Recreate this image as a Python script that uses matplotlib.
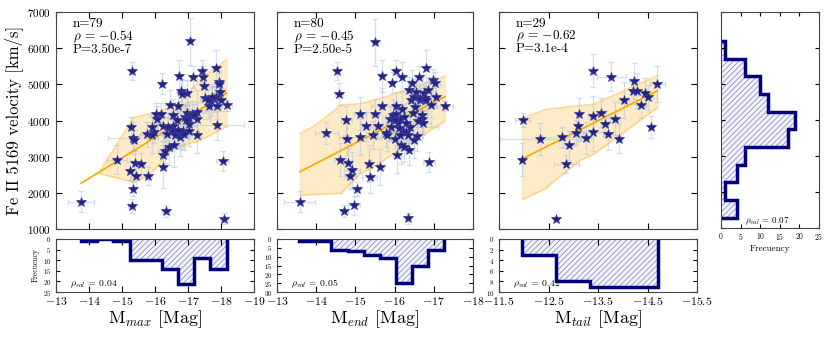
import matplotlib.pyplot as plt
import numpy as np

plt.rcParams.update({
    'font.family': 'serif',
    'font.serif': ['cmr10', 'DejaVu Serif'],
    'mathtext.fontset': 'cm',
    'axes.formatter.use_mathtext': True,
    'axes.unicode_minus': True,
    'hatch.linewidth': 0.6,
    'axes.edgecolor': '#444444',
    'xtick.direction': 'in',
    'ytick.direction': 'in',
    'xtick.top': True,
    'ytick.right': True,
})

# ---- panel 1: M_max
mmax_x = [-13.76, -15.31, -15.29, -15.34, -15.34, -15.36, -15.24, -15.39, -15.42, -15.58,
          -14.86, -15.27, -15.75, -15.90, -15.80, -15.98, -16.03, -16.05, -16.18, -16.22,
          -16.23, -15.91, -16.25, -16.25, -16.30, -16.32, -16.43, -16.46, -16.56, -16.56,
          -16.53, -16.58, -16.71, -16.73, -16.79, -16.76, -16.81, -16.84, -16.92, -16.96,
          -16.97, -17.02, -17.04, -17.06, -17.02, -17.16, -17.26, -17.28, -17.28, -17.43,
          -17.46, -17.48, -17.51, -17.63, -17.71, -17.78, -17.84, -17.86, -17.87, -17.89,
          -17.94, -17.97, -18.00, -18.05, -18.10, -18.17, -16.66, -16.88, -17.11, -17.19,
          -16.40, -16.61, -16.71, -16.94, -17.93, -17.73, -16.35, -16.81, -17.60]
mmax_v = [1750, 5360, 1630, 2110, 3510, 3450, 2610, 2830, 2460, 2800,
          2920, 3820, 3620, 3820, 2460, 3670, 4190, 4050, 4190, 5020,
          3840, 3590, 3040, 2720, 3170, 1490, 3260, 4430, 4140, 3860,
          3700, 3320, 4400, 5240, 4810, 3530, 3660, 3700, 4110, 4200,
          4770, 3910, 4060, 6190, 3700, 5210, 4230, 4050, 3600, 5370,
          5210, 4960, 4610, 4400, 4550, 4590, 4660, 5460, 3870, 4400,
          5060, 4800, 4560, 2870, 1290, 4420, 4010, 3640, 4190, 4150,
          3820, 3590, 3750, 4010, 5020, 4660, 3640, 4740, 4560]
mmax_xerr = [0.39, 0.05, 0.10, 0.05, 0.75, 0.10, 0.10, 0.10, 0.15, 0.10,
             0.30, 0.10, 0.20, 0.15, 0.10, 0.25, 0.15, 0.10, 0.10, 0.05,
             0.20, 0.35, 0.10, 0.10, 0.20, 0.10, 0.10, 0.15, 0.10, 0.30,
             0.10, 0.15, 0.20, 0.05, 0.10, 0.25, 0.10, 0.15, 0.10, 0.20,
             0.10, 0.10, 0.15, 0.05, 0.30, 0.10, 0.20, 0.40, 0.10, 0.10,
             0.05, 0.10, 0.15, 0.10, 0.20, 0.10, 0.15, 0.10, 0.83, 0.10,
             0.10, 0.15, 0.10, 0.20, 0.10, 0.15, 0.10, 0.20, 0.15, 0.10,
             0.10, 0.25, 0.10, 0.15, 0.10, 0.10, 0.15, 0.10, 0.20]
mmax_yerr = [290, 250, 200, 200, 450, 300, 250, 350, 300, 300,
             400, 280, 350, 300, 250, 300, 300, 350, 300, 300,
             400, 500, 400, 600, 350, 170, 500, 400, 450, 350,
             500, 600, 400, 420, 300, 500, 450, 400, 350, 500,
             350, 400, 450, 650, 400, 300, 600, 450, 500, 300,
             300, 350, 400, 300, 400, 350, 300, 500, 400, 350,
             300, 250, 300, 280, 150, 150, 400, 450, 350, 300,
             400, 350, 500, 450, 300, 350, 450, 400, 300]
mmax_fit = (-565, -5510)  # slope, intercept
mmax_band_x = [-14.30, -15.34, -15.75, -16.05, -16.56, -16.81, -17.36, -18.17]
mmax_band_hi = [2570, 4080, 4180, 4210, 4430, 4560, 5140, 5700]
mmax_band_lo = [2540, 2300, 2450, 2710, 3270, 3310, 3450, 3840]
mmax_edges = [-13.76, -14.25, -14.74, -15.23, -15.72, -16.21, -16.70, -17.19, -17.68, -18.17]
mmax_counts = [1, 0, 1, 10, 10, 14, 21, 9, 14]

# ---- panel 2: M_end
mend_x = [-13.58, -14.26, -14.53, -14.58, -14.71, -14.77, -14.79, -14.60, -14.82, -14.92,
          -14.87, -14.96, -15.03, -15.11, -15.13, -15.26, -15.35, -15.36, -15.45, -15.49,
          -15.49, -15.58, -15.64, -15.69, -15.69, -15.77, -15.81, -15.89, -15.93, -15.96,
          -16.00, -16.03, -16.04, -16.04, -16.06, -16.11, -16.13, -16.16, -16.20, -16.20,
          -16.21, -16.23, -16.24, -16.30, -16.34, -16.35, -16.37, -16.38, -16.40, -16.43,
          -16.45, -16.47, -16.49, -16.49, -16.55, -16.57, -16.62, -16.64, -16.66, -16.69,
          -16.71, -16.72, -16.74, -16.77, -16.81, -16.84, -16.88, -16.92, -16.98, -17.02,
          -17.05, -17.28, -15.92, -16.09, -16.28, -16.52, -16.60, -16.00, -16.79, -16.13]
mend_v = [1750, 3660, 5360, 4730, 1490, 4010, 3490, 2920, 2830, 2620,
          2460, 1650, 2100, 4190, 3540, 3840, 2810, 2450, 3600, 6160,
          4190, 3840, 2720, 5230, 4400, 3660, 3600, 4050, 5050, 4140,
          3490, 4400, 4190, 5380, 3050, 3780, 4050, 3310, 5210, 4330,
          3700, 3260, 4100, 3690, 3590, 1300, 3180, 4840, 3820, 4560,
          5050, 4210, 4660, 3450, 4800, 3560, 5210, 4560, 4610, 4140,
          4030, 3940, 4770, 4610, 5440, 4840, 2860, 4420, 5120, 5030,
          4640, 4400, 3820, 3920, 3920, 4380, 3990, 4010, 4560, 3590]
mend_xerr = [0.40, 0.30, 0.05, 0.10, 0.10, 0.15, 0.10, 0.15, 0.10, 0.20,
             0.15, 0.15, 0.10, 0.15, 0.55, 0.10, 0.10, 0.20, 0.10, 0.05,
             0.10, 0.20, 0.10, 0.05, 0.30, 0.10, 0.15, 0.10, 0.05, 0.20,
             0.15, 0.10, 0.10, 0.05, 0.10, 0.15, 0.10, 0.10, 0.05, 0.10,
             0.25, 0.10, 0.15, 0.10, 0.20, 0.05, 0.10, 0.10, 0.70, 0.10,
             0.10, 0.15, 0.10, 0.20, 0.10, 0.15, 0.10, 0.10, 0.10, 0.15,
             0.10, 0.20, 0.10, 0.10, 0.05, 0.10, 0.15, 0.10, 0.10, 0.15,
             0.10, 0.20, 0.10, 0.15, 0.10, 0.10, 0.20, 0.15, 0.10, 0.10]
mend_yerr = [290, 300, 250, 300, 170, 400, 450, 450, 400, 500,
             350, 250, 200, 450, 500, 400, 500, 450, 400, 650,
             400, 350, 500, 450, 500, 400, 450, 350, 300, 450,
             500, 400, 350, 300, 500, 450, 400, 500, 400, 450,
             500, 400, 350, 450, 400, 150, 400, 350, 450, 400,
             350, 300, 400, 500, 350, 400, 300, 350, 400, 450,
             400, 350, 300, 350, 500, 350, 280, 350, 300, 300,
             300, 150, 400, 350, 400, 350, 400, 450, 300, 400]
mend_fit = (-562, -5052)
mend_band_x = [-13.58, -13.92, -14.64, -15.11, -15.45, -16.04, -17.28]
mend_band_hi = [3640, 3840, 4440, 4470, 4560, 4750, 5230]
mend_band_lo = [1930, 1960, 1990, 2530, 2710, 3130, 3990]
mend_edges = [-13.56, -13.97, -14.38, -14.80, -15.21, -15.62, -16.03, -16.44, -16.86, -17.27]
mend_counts = [1, 1, 6, 7, 9, 11, 25, 15, 6]

# ---- panel 3: M_tail
mtail_x = [-11.98, -11.97, -12.33, -12.66, -12.77, -12.86, -12.91, -13.06, -13.09, -13.12,
           -13.26, -13.39, -13.40, -13.40, -13.57, -13.65, -13.71, -13.77, -13.84, -13.92,
           -14.02, -14.21, -14.23, -14.28, -14.36, -14.44, -14.52, -14.58, -14.70]
mtail_v = [4010, 2920, 3490, 1290, 3530, 2800, 3310, 3660, 3840, 4180,
           3520, 5380, 3670, 4120, 4210, 3910, 3630, 5210, 4050, 3500,
           4560, 4810, 5100, 4820, 4430, 4770, 4640, 3820, 5000]
mtail_xerr = [0.15, 0.05, 0.80, 0.05, 0.40, 0.25, 0.10, 0.15, 0.05, 0.05,
              0.10, 0.05, 0.20, 0.10, 0.10, 0.05, 0.10, 0.30, 0.10, 0.05,
              0.10, 0.05, 0.10, 0.05, 0.10, 0.05, 0.10, 0.05, 0.15]
mtail_yerr = [200, 450, 450, 0, 300, 250, 400, 350, 400, 450,
              450, 450, 500, 550, 400, 350, 450, 400, 450, 400,
              500, 350, 500, 500, 350, 400, 350, 300, 500]
mtail_fit = (-688.6, -5303)
mtail_band_x = [-11.97, -12.42, -13.13, -13.40, -14.70]
mtail_band_hi = [4060, 4310, 4420, 4450, 5250]
mtail_band_lo = [1820, 2110, 2900, 3060, 4360]
mtail_edges = [-11.97, -12.655, -13.34, -14.025, -14.71]
mtail_counts = [3, 8, 9, 9]

# ---- velocity histogram (right)
vel_edges = [1290, 1780, 2270, 2760, 3250, 3740, 4230, 4720, 5210, 5700, 6190]
vel_counts = [4, 1, 4, 6, 17, 19, 12, 10, 6, 1]

stats = [('n=79', '-0.54', 'P=3.50e-7', '0.04'),
         ('n=80', '-0.45', 'P=2.50e-5', '0.05'),
         ('n=29', '-0.62', 'P=3.1e-4', '0.42')]

NAVY = '#24247f'
W, H = 831, 337
fig = plt.figure(figsize=(W / 100, H / 100), dpi=100)


def px_axes(x0, x1, ytop, ybot):
    return fig.add_axes([x0 / W, 1 - ybot / H, (x1 - x0) / W, (ybot - ytop) / H])


def draw_steps(ax, counts, edges, orientation='vertical'):
    ax.stairs(counts, edges, orientation=orientation, fill=True, baseline=0,
              facecolor='#f3f3fa', edgecolor='#8e8ec6', hatch='//////', linewidth=0)
    ax.stairs(counts, edges, orientation=orientation, fill=False, baseline=0,
              edgecolor='#000080', linewidth=2.5)


panels = [
    (56, 254, (-13, -19), np.arange(-13, -19.5, -1), mmax_x, mmax_v, mmax_xerr, mmax_yerr,
     mmax_fit, mmax_band_x, mmax_band_lo, mmax_band_hi, mmax_edges, mmax_counts, 25, 5, 'max'),
    (277, 473, (-13, -18), np.arange(-13, -18.5, -1), mend_x, mend_v, mend_xerr, mend_yerr,
     mend_fit, mend_band_x, mend_band_lo, mend_band_hi, mend_edges, mend_counts, 30, 5, 'end'),
    (499, 697, (-11.5, -15.5), np.arange(-11.5, -16, -1), mtail_x, mtail_v, mtail_xerr, mtail_yerr,
     mtail_fit, mtail_band_x, mtail_band_lo, mtail_band_hi, mtail_edges, mtail_counts, 10, 2, 'tail'),
]

for i, (x0, x1, xlim, xticks, x, v, xe, ye, fit, bx, blo, bhi, edges, counts, hmax, hstep, name) in enumerate(panels):
    ax = px_axes(x0, x1, 12, 229)
    ax.fill_between(bx, blo, bhi, color='#ffa500', alpha=0.22, lw=0.8, zorder=0)
    ax.plot(bx, blo, color='#ffa500', alpha=0.35, lw=0.8)
    ax.plot(bx, bhi, color='#ffa500', alpha=0.35, lw=0.8)
    ax.errorbar(x, v, xerr=xe, yerr=ye, fmt='none', ecolor='#b7c8de', alpha=0.55,
                elinewidth=1, capsize=2, zorder=1)
    fx = np.array([max(x), min(x)])
    ax.plot(fx, fit[0] * fx + fit[1], color='orange', lw=1.2, zorder=2)
    ax.plot(x, v, '*', ms=7, color=NAVY, mec='#3a3a9c', mew=0.5, zorder=3)
    ax.set_xlim(*xlim)
    ax.set_ylim(1000, 7000)
    ax.set_xticks(xticks)
    ax.set_xticklabels([])
    ax.set_yticks(range(1000, 7001, 1000))
    ax.tick_params(labelsize=8, length=4)
    if i == 0:
        ax.set_ylabel('Fe II 5169 velocity [km/s]', fontsize=12, labelpad=3)
    else:
        ax.set_yticklabels([])
    n, rho, p, pval = stats[i]
    ax.text(0.085, 0.975, n + '\n' + r'$\rho$ = $' + rho + '$\n' + p,
            transform=ax.transAxes, va='top', ha='left', fontsize=9.5, linespacing=0.92)

    hx = px_axes(x0, x1, 239, 292)
    draw_steps(hx, counts, edges)
    hx.set_xlim(*xlim)
    hx.set_xticks(xticks)
    hx.set_ylim(hmax, 0)
    hx.set_yticks(range(0, hmax + 1, hstep))
    hx.tick_params(axis='y', labelsize=5, length=3)
    hx.tick_params(axis='x', labelsize=8.5, length=4, pad=2)
    hx.text(0.07, 0.1, r'$\rho_{val}$ = ' + pval, transform=hx.transAxes, fontsize=7)
    hx.set_xlabel(r'M$_{' + name + '}$ [Mag]', fontsize=13, labelpad=1)
    if i == 0:
        hx.set_ylabel('Frecuency', fontsize=5.5, labelpad=2)

# right velocity histogram
rx = px_axes(721, 819, 12, 228)
draw_steps(rx, vel_counts, vel_edges, orientation='horizontal')
rx.set_ylim(1000, 7000)
rx.set_yticks(range(1000, 7001, 1000))
rx.set_yticklabels([])
rx.set_xlim(0, 25)
rx.set_xticks(range(0, 26, 5))
rx.tick_params(labelsize=5.5, length=3, pad=2)
rx.set_xlabel('Frecuency', fontsize=6.5, labelpad=2)
rx.text(0.24, 0.02, r'$\rho_{val}$ = 0.07', transform=rx.transAxes, fontsize=6.5)

fig.savefig('out.png', dpi=100)
